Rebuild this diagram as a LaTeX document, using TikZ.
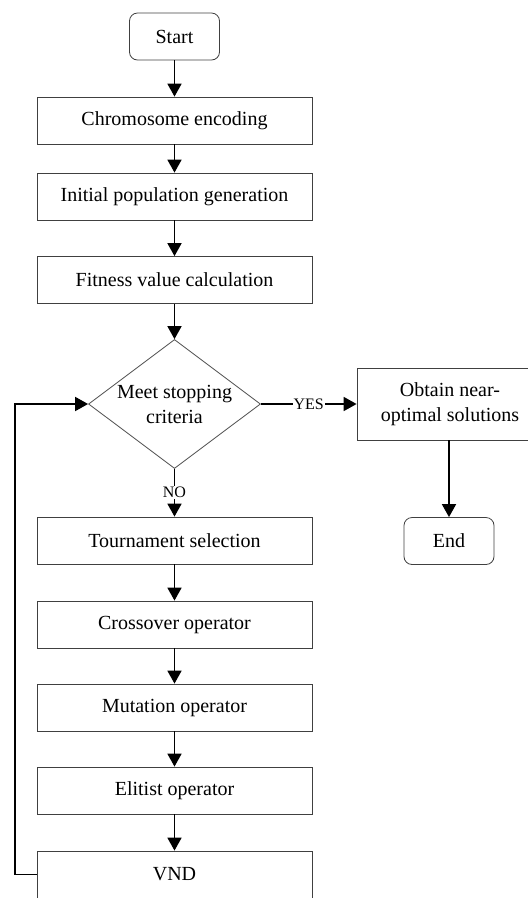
\documentclass[tikz,border=0pt]{standalone}
\usepackage{fontspec}
\setmainfont{Liberation Serif}
\usetikzlibrary{arrows.meta,positioning,shapes.geometric}

\begin{document}
\begin{tikzpicture}[x=1pt, y=-1pt,
    every node/.style={font=\fontsize{20}{25}\selectfont},
    procbox/.style={draw=black!75, line width=0.8pt, minimum width=275pt, minimum height=47pt, inner sep=0pt},
    termbox/.style={draw=black!75, line width=0.8pt, rounded corners=8pt, minimum width=90pt, minimum height=47pt, inner sep=0pt},
    tag/.style={fill=white, inner sep=1pt, font=\fontsize{16}{16}\selectfont},
    flow/.style={-{Triangle[width=14pt,length=13pt]}, line width=1.8pt}]
\clip (0,0) rectangle (528,898);
\node[termbox] (start) at (174.5,36.5) {Start};
\foreach \name/\y/\txt in {enc/120.5/Chromosome encoding, init/196.5/Initial population generation,
                           fit/280/Fitness value calculation, tourn/540.5/Tournament selection,
                           cross/624.5/Crossover operator, mut/707.5/Mutation operator,
                           elit/790.5/Elitist operator, vnd/874.5/VND}
    \node[procbox] (\name) at (174.5,\y) {\txt};
\node[diamond, draw=black!70, line width=0.8pt, minimum width=172pt, minimum height=129pt, inner sep=0pt,
      label={[align=center]center:Meet stopping\\criteria}] (stop) at (174.5,404) {};
\node[draw=black!75, line width=0.8pt, minimum width=186pt, minimum height=72pt, align=center] (obtain) at (450,404) {Obtain near-\\optimal solutions};
\node[termbox] (finish) at (449,541) {End};
\draw[flow] (start) -- (enc);
\draw[flow] (enc) -- (init);
\draw[flow] (init) -- (fit);
\draw[flow] (fit) -- (stop);
\draw[flow] (stop) -- node[tag] {NO} (tourn);
\draw[flow] (stop) -- node[tag] {YES} (obtain);
\draw[flow] (obtain.south -| finish) -- (finish);
\foreach \a/\b in {tourn/cross, cross/mut, mut/elit, elit/vnd}
    \draw[flow] (\a) -- (\b);
\draw[flow] (vnd.west) -- ++(-22,0) |- (stop.west);
\end{tikzpicture}
\end{document}
